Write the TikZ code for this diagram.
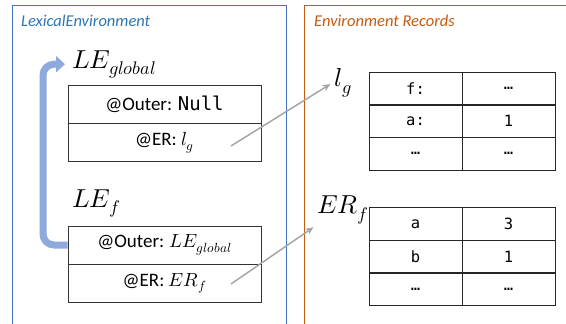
\documentclass[tikz,border=0pt]{standalone}
\usepackage{unicode-math}
\setmainfont{Carlito}
\setmonofont{DejaVu Sans Mono}
\setmathfont{Latin Modern Math}
\usetikzlibrary{arrows.meta}
\definecolor{lexblue}{HTML}{4472C4}
\definecolor{lextitle}{HTML}{2E75B6}
\definecolor{erorange}{HTML}{C55A11}
\definecolor{outerblue}{HTML}{8EA9DB}
\definecolor{ptrgray}{HTML}{A6A6A6}
\tikzset{
    envrow/.style={draw=black!80, line width=0.9pt, minimum width=193pt,
        minimum height=38pt, inner sep=0pt, font=\fontsize{19}{22}\selectfont},
    cell/.style={draw=black!85, line width=0.9pt, minimum width=93pt,
        minimum height=33pt, inner sep=0pt, font=\ttfamily\fontsize{15.5}{18}\selectfont},
    biglabel/.style={inner sep=2pt, font=\fontsize{26}{30}\selectfont},
    title/.style={anchor=west, inner sep=0pt, font=\itshape\fontsize{16.5}{19}\selectfont},
    ptr/.style={ptrgray, line width=1.5pt, -{Stealth[length=8pt,width=7pt]}, shorten >=2pt},
    outer/.style={outerblue, line width=7pt, rounded corners=11pt,
        -{Triangle[length=9pt,width=16pt]}}
}
\begin{document}
\begin{tikzpicture}[x=1pt, y=-1pt]
    \useasboundingbox (0,0) rectangle (566,324);
    % frames
    \draw[lexblue, line width=1pt]
        (12,324) -- (12,5) -- (286,5) -- (286,324);
    \draw[erorange, line width=1pt]
        (304,324) -- (304,5) -- (566,5);
    \node[title, text=lextitle] (lextitle) at (21,21) {LexicalEnvironment};
    \node[title, text=erorange] (ertitle) at (314,21) {Environment Records};
    % lexical environments
    \node[biglabel, anchor=base west] (leg) at (70,68) {$LE_{global}$};
    \node[envrow] (gouter) at (164.5,104.5) {@Outer: \texttt{Null}};
    \node[envrow] (ger) at (164.5,142.5) {@ER: $l_g$};
    \node[biglabel, anchor=base west] (lef) at (70,207) {$LE_f$};
    \node[envrow] (fouter) at (164.5,245) {@Outer: $LE_{global}$};
    \node[envrow] (fer) at (164.5,283.5) {@ER: $ER_f$};
    \draw[outer] (fouter.west) -| ([xshift=-27pt]leg.west)
        -- ([xshift=-5pt]leg.west);
    % environment records
    \node[biglabel] (lg) at (343,83) {$l_g$};
    \node[biglabel] (erf) at (343,210) {$ER_f$};
    \foreach \i/\k/\v in {0/f:/…, 1/a:/1, 2/…/…} {
        \node[cell] (lgk\i) at (415.5,88.5+32.5*\i) {\k};
        \node[cell] (lgv\i) at (508.5,88.5+32.5*\i) {\v};
    }
    \foreach \i/\k/\v in {0/a/3, 1/b/1, 2/…/…} {
        \node[cell] (erk\i) at (415.5,224+32.7*\i) {\k};
        \node[cell] (erv\i) at (508.5,224+32.7*\i) {\v};
    }
    % pointers
    \coordinate (lgsrc) at (231,146);
    \coordinate (erfsrc) at (231,284);
    \draw[ptr] (lgsrc) -- (lg.west);
    \draw[ptr] (erfsrc) -- (erf.south west);
\end{tikzpicture}
\end{document}
